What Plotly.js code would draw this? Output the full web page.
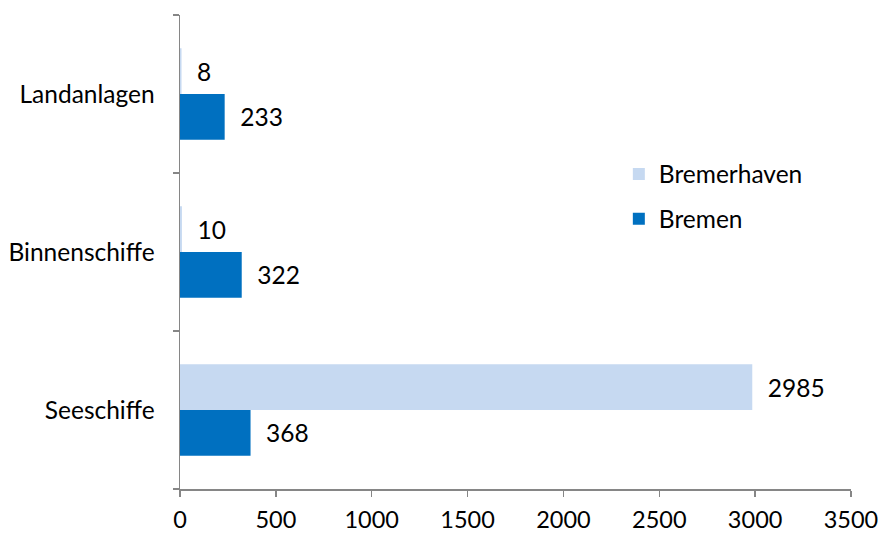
<!DOCTYPE html>
<html>
<head>
<meta charset="utf-8">
<script src="https://cdn.plot.ly/plotly-3.0.1.min.js"></script>
<style>html,body{margin:0;padding:0;background:#fff;}#chart{width:879px;height:534px;}</style>
</head>
<body>
<div id="chart"></div>
<script>
const categories = ['Seeschiffe', 'Binnenschiffe', 'Landanlagen'];
const bremen = [368, 322, 233];
const bremerhaven = [2985, 10, 8];
const xTicks = [0, 500, 1000, 1500, 2000, 2500, 3000, 3500];

const pad = '\u00a0\u00a0';
const fontFam = 'Lato, "Open Sans", sans-serif';
const fs = 24.5;

const traces = [
  {
    type: 'bar', orientation: 'h', name: 'Bremen',
    y: categories, x: bremen,
    marker: {color: '#0070C0'},
    text: bremen.map(v => pad + v), textposition: 'outside',
    textfont: {family: fontFam, size: fs, color: '#000'},
    cliponaxis: false, legendgroup: 'b', legendrank: 2, hoverinfo: 'x'
  },
  {
    type: 'bar', orientation: 'h', name: 'Bremerhaven',
    y: categories, x: bremerhaven,
    marker: {color: '#C6D9F1'},
    text: bremerhaven.map(v => pad + v), textposition: 'outside',
    textfont: {family: fontFam, size: fs, color: '#000'},
    cliponaxis: false, legendgroup: 'a', legendrank: 1, hoverinfo: 'x'
  }
];

const layout = {
  width: 879, height: 534,
  margin: {l: 180, r: 28, t: 15, b: 45},
  paper_bgcolor: '#fff', plot_bgcolor: '#fff',
  font: {family: fontFam, size: fs, color: '#000'},
  barmode: 'group', bargap: 0.42, bargroupgap: 0,
  showlegend: true,
  legend: {
    x: 0.654, y: 0.712, xanchor: 'left', yanchor: 'top',
    traceorder: 'grouped', tracegroupgap: 10,
    font: {family: fontFam, size: fs, color: '#000'},
    bgcolor: 'rgba(0,0,0,0)'
  },
  xaxis: {
    range: [0, 3500], tickvals: xTicks, ticktext: xTicks.map(String),
    showgrid: false, zeroline: false,
    showline: true, linecolor: '#868686', linewidth: 1.5,
    ticks: 'outside', ticklen: 6, tickcolor: '#868686', tickwidth: 1.5,
    ticklabelstandoff: 3, ticklabeloverflow: 'allow',
    tickfont: {family: fontFam, size: 23.5, color: '#000'},
    fixedrange: true
  },
  yaxis: {
    type: 'category', categoryorder: 'array', categoryarray: categories,
    range: [-0.5, 2.5],
    showgrid: false, zeroline: false,
    showline: true, linecolor: '#868686', linewidth: 1.5,
    ticks: 'outside', tickson: 'boundaries', ticklen: 6, tickcolor: '#868686', tickwidth: 1.5,
    ticklabelstandoff: 19,
    tickfont: {family: fontFam, size: fs, color: '#000'},
    fixedrange: true
  }
};

Plotly.newPlot('chart', traces, layout, {displayModeBar: false, staticPlot: true});
</script>
</body>
</html>
